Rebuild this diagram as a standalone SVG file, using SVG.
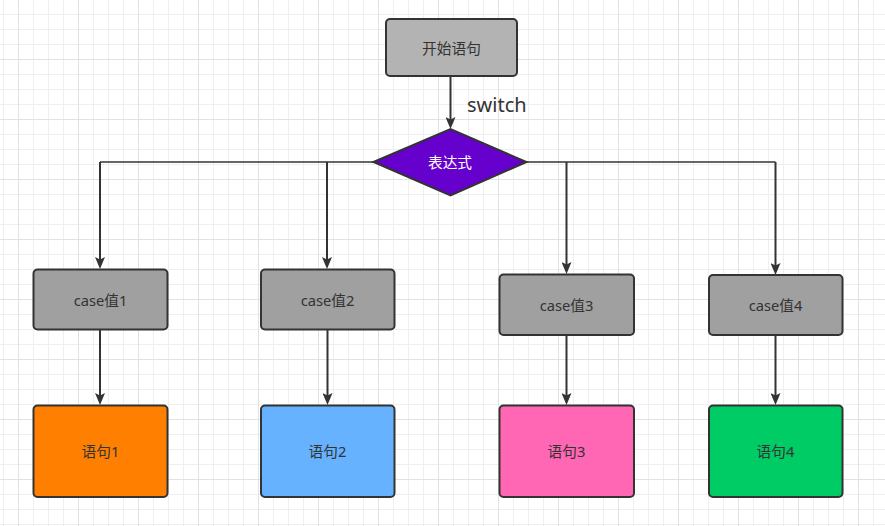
<svg xmlns="http://www.w3.org/2000/svg" width="885" height="526" viewBox="0 0 885 526">
<defs>
<pattern id="grid" patternUnits="userSpaceOnUse" x="18" y="59" width="60" height="60">
<rect x="0" y="0" width="60" height="60" fill="#ffffff"/>
<g fill="#efefef">
<rect x="15" y="0" width="1" height="60"/><rect x="30" y="0" width="1" height="60"/><rect x="45" y="0" width="1" height="60"/>
<rect x="0" y="15" width="60" height="1"/><rect x="0" y="30" width="60" height="1"/><rect x="0" y="45" width="60" height="1"/>
</g>
<g fill="#e2e2e2">
<rect x="0" y="0" width="1" height="60"/><rect x="0" y="0" width="60" height="1"/>
</g>
</pattern>
<marker id="arrow" viewBox="0 0 12 10" markerUnits="userSpaceOnUse" markerWidth="12" markerHeight="10" refX="8" refY="5" orient="auto">
<path d="M0,0 L12,5 L0,10 L2.5,5 z" fill="#333333"/>
</marker>
</defs>
<style>
.box{stroke:#333333;stroke-width:2}
.lbl{font-family:"Noto Sans","Noto Sans CJK SC",sans-serif;font-size:14.7px;fill:#333333;text-anchor:middle;dominant-baseline:central}
.conn{fill:none;stroke:#333333;stroke-width:2;marker-end:url(#arrow)}
.conn2{fill:none;stroke:#333333;stroke-width:1.6}
</style>
<rect x="0" y="0" width="885" height="526" fill="url(#grid)"/>

<g id="connectors">
<path class="conn" d="M450.5,77 V125"/>
<path class="conn2" d="M374,162 H100"/>
<path class="conn" d="M100,162 V265"/>
<path class="conn" d="M327,162 V265"/>
<path class="conn2" d="M526,162 H775.5"/>
<path class="conn" d="M566.5,162 V270"/>
<path class="conn" d="M775.5,162 V271"/>
<path class="conn" d="M100,330 V401"/>
<path class="conn" d="M327.5,330 V401"/>
<path class="conn" d="M566.5,335 V401"/>
<path class="conn" d="M775.5,335 V401"/>
<text x="467" y="112" font-family="Noto Sans, Noto Sans CJK SC, sans-serif" font-size="20" fill="#333333">switch</text>
</g>

<g id="start">
<rect class="box" x="386" y="19" width="131" height="57" rx="4" fill="#b3b3b3"/>
<text class="lbl" x="451.5" y="47.5">开始语句</text>
</g>
<g id="expr">
<polygon class="box" points="373.5,162 450.5,129 526.5,162 450.5,195.5" fill="#6600cc"/>
<text class="lbl" x="450" y="162" style="fill:#ffffff">表达式</text>
</g>

<g id="case1">
<rect class="box" x="33.5" y="269.5" width="134" height="60" rx="4" fill="#a0a0a0"/>
<text class="lbl" x="100.5" y="299.5">case值1</text>
</g>
<g id="case2">
<rect class="box" x="261" y="269.5" width="133.5" height="60" rx="4" fill="#a0a0a0"/>
<text class="lbl" x="327.5" y="299.5">case值2</text>
</g>
<g id="case3">
<rect class="box" x="499.5" y="274.5" width="134.5" height="60.5" rx="4" fill="#a0a0a0"/>
<text class="lbl" x="566.5" y="304.5">case值3</text>
</g>
<g id="case4">
<rect class="box" x="709" y="275" width="133.5" height="60" rx="4" fill="#a0a0a0"/>
<text class="lbl" x="775.5" y="305">case值4</text>
</g>

<g id="stmt1">
<rect class="box" x="33.5" y="405.5" width="134" height="91.5" rx="4" fill="#ff8000"/>
<text class="lbl" x="100.5" y="451">语句1</text>
</g>
<g id="stmt2">
<rect class="box" x="261" y="405.5" width="133.5" height="91.5" rx="4" fill="#66b2ff"/>
<text class="lbl" x="327.5" y="451">语句2</text>
</g>
<g id="stmt3">
<rect class="box" x="499.5" y="405.5" width="134.5" height="91.5" rx="4" fill="#ff66b3"/>
<text class="lbl" x="566.5" y="451">语句3</text>
</g>
<g id="stmt4">
<rect class="box" x="709" y="405.5" width="133.5" height="91.5" rx="4" fill="#00cc66"/>
<text class="lbl" x="775.5" y="451">语句4</text>
</g>
</svg>
